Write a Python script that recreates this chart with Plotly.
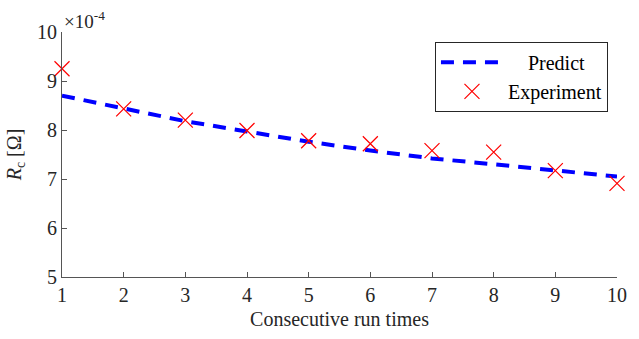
import plotly.graph_objects as go

runs = [1, 2, 3, 4, 5, 6, 7, 8, 9, 10]
predict = [8.70, 8.43, 8.18, 7.97, 7.76, 7.58, 7.42, 7.30, 7.17, 7.05]
experiment = [9.25, 8.43, 8.20, 7.99, 7.78, 7.72, 7.58, 7.55, 7.17, 6.91]
yticks = [5, 6, 7, 8, 9, 10]
xticks = runs

font = "Liberation Serif"

fig = go.Figure()
fig.add_trace(go.Scatter(
    x=runs, y=predict, mode="lines", name="\u00a0\u00a0\u00a0\u00a0Predict",
    line=dict(color="#0000ff", width=4, dash="13px,9px"),
    cliponaxis=False,
))
fig.add_trace(go.Scatter(
    x=runs, y=experiment, mode="markers", name="Experiment",
    marker=dict(symbol="x-thin", size=15, line=dict(color="#ff0000", width=1.2), color="#ff0000"),
    cliponaxis=False,
))

axis_common = dict(
    showline=True, linecolor="#555555", linewidth=1,
    ticks="inside", ticklen=5, tickcolor="#555555",
    showgrid=False, zeroline=False, mirror=False,
    tickfont=dict(family=font, size=20, color="#262626"),
)

fig.update_layout(
    width=639, height=339,
    margin=dict(l=62, r=13, t=32, b=62),
    plot_bgcolor="white", paper_bgcolor="white",
    font=dict(family=font, color="#262626"),
    xaxis=dict(range=[1, 10], tickvals=xticks,
               title=dict(text="Consecutive run times", font=dict(family=font, size=20), standoff=6),
               **axis_common),
    yaxis=dict(range=[5, 10], tickvals=yticks,
               title=dict(text="<i>R</i><sub>c</sub> [Ω]", font=dict(family=font, size=20), standoff=10),
               **axis_common),
    legend=dict(x=0.672, y=0.96, xanchor="left", yanchor="top",
                bgcolor="white", bordercolor="#262626", borderwidth=1,
                font=dict(family=font, size=20, color="#000000"),
                itemwidth=62, tracegroupgap=0),
    showlegend=True,
)
fig.add_annotation(
    text="×10<sup>-4</sup>", xref="paper", yref="paper",
    x=0.0, y=1.0, xanchor="left", yanchor="bottom", showarrow=False,
    font=dict(family=font, size=19, color="#262626"), yshift=-2,
)

fig.write_html("out.html")
